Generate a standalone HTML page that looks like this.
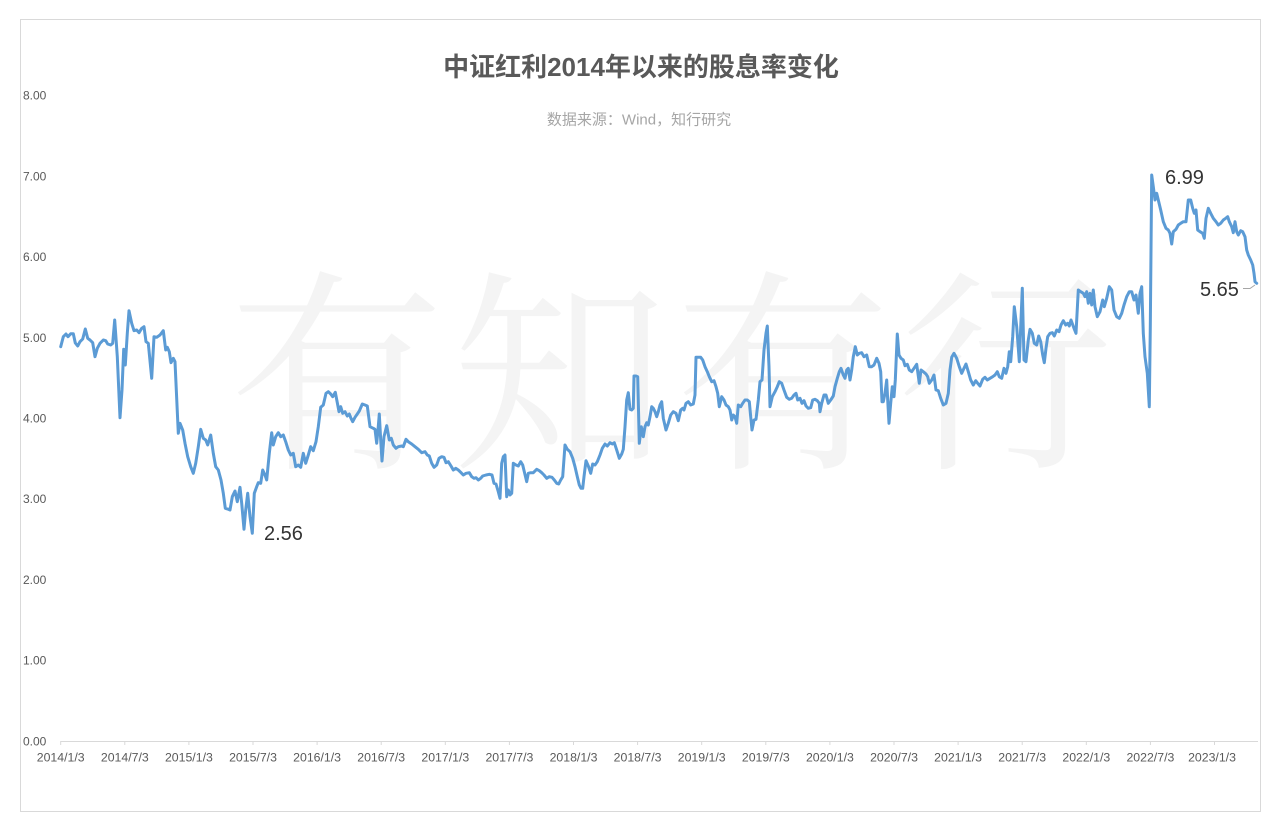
<!DOCTYPE html>
<html>
<head>
<meta charset="utf-8">
<style>
html,body{margin:0;padding:0;background:#fff;}
svg{display:block;}
</style>
</head>
<body>
<svg width="1280" height="831" viewBox="0 0 1280 831" xmlns="http://www.w3.org/2000/svg">
<rect x="0" y="0" width="1280" height="831" fill="#ffffff"/>
<rect x="20.5" y="19.5" width="1240" height="792" fill="#ffffff" stroke="#d9d9d9" stroke-width="1"/>

<!-- watermark -->
<text x="229" y="452" font-family="'Noto Serif CJK SC','Noto Sans CJK SC',serif" font-size="215" letter-spacing="8" fill="#f4f4f4">有知有行</text>

<!-- title -->
<text x="641" y="76" text-anchor="middle" font-family="'Liberation Sans','Noto Sans CJK SC',sans-serif" font-size="26" font-weight="bold" fill="#595959">中证红利2014年以来的股息率变化</text>
<text x="639" y="124.5" text-anchor="middle" font-family="'Liberation Sans','Noto Sans CJK SC',sans-serif" font-size="15" fill="#a6a6a6">数据来源：Wind，知行研究</text>

<!-- y labels -->
<g font-family="'Liberation Sans',sans-serif" font-size="12" fill="#595959">
<text x="23" y="99.7">8.00</text>
<text x="23" y="180.4">7.00</text>
<text x="23" y="261.1">6.00</text>
<text x="23" y="341.8">5.00</text>
<text x="23" y="422.5">4.00</text>
<text x="23" y="503.2">3.00</text>
<text x="23" y="583.9">2.00</text>
<text x="23" y="664.6">1.00</text>
<text x="23" y="745.3">0.00</text>
</g>

<!-- x axis -->
<line x1="60.5" y1="741.5" x2="1258" y2="741.5" stroke="#d9d9d9" stroke-width="1"/>
<g stroke="#d9d9d9" stroke-width="1">
<line x1="60.7" y1="741" x2="60.7" y2="745"/>
<line x1="124.8" y1="741" x2="124.8" y2="745"/>
<line x1="188.9" y1="741" x2="188.9" y2="745"/>
<line x1="253" y1="741" x2="253" y2="745"/>
<line x1="317.1" y1="741" x2="317.1" y2="745"/>
<line x1="381.2" y1="741" x2="381.2" y2="745"/>
<line x1="445.3" y1="741" x2="445.3" y2="745"/>
<line x1="509.4" y1="741" x2="509.4" y2="745"/>
<line x1="573.5" y1="741" x2="573.5" y2="745"/>
<line x1="637.6" y1="741" x2="637.6" y2="745"/>
<line x1="701.7" y1="741" x2="701.7" y2="745"/>
<line x1="765.8" y1="741" x2="765.8" y2="745"/>
<line x1="829.9" y1="741" x2="829.9" y2="745"/>
<line x1="894" y1="741" x2="894" y2="745"/>
<line x1="958.1" y1="741" x2="958.1" y2="745"/>
<line x1="1022.2" y1="741" x2="1022.2" y2="745"/>
<line x1="1086.3" y1="741" x2="1086.3" y2="745"/>
<line x1="1150.4" y1="741" x2="1150.4" y2="745"/>
<line x1="1214.5" y1="741" x2="1214.5" y2="745"/>
</g>
<g font-family="'Liberation Sans',sans-serif" font-size="12.3" fill="#595959" text-anchor="middle">
<text x="60.7" y="761.5">2014/1/3</text>
<text x="124.8" y="761.5">2014/7/3</text>
<text x="188.9" y="761.5">2015/1/3</text>
<text x="253" y="761.5">2015/7/3</text>
<text x="317.1" y="761.5">2016/1/3</text>
<text x="381.2" y="761.5">2016/7/3</text>
<text x="445.3" y="761.5">2017/1/3</text>
<text x="509.4" y="761.5">2017/7/3</text>
<text x="573.5" y="761.5">2018/1/3</text>
<text x="637.6" y="761.5">2018/7/3</text>
<text x="701.7" y="761.5">2019/1/3</text>
<text x="765.8" y="761.5">2019/7/3</text>
<text x="829.9" y="761.5">2020/1/3</text>
<text x="894" y="761.5">2020/7/3</text>
<text x="958.1" y="761.5">2021/1/3</text>
<text x="1022.2" y="761.5">2021/7/3</text>
<text x="1086.3" y="761.5">2022/1/3</text>
<text x="1150.4" y="761.5">2022/7/3</text>
<text x="1212" y="761.5">2023/1/3</text>
</g>

<!-- series -->
<polyline fill="none" stroke="#5b9bd5" stroke-width="3" stroke-linejoin="round" stroke-linecap="round" points="
60.7,346.7 63.3,336.7 66,334 68,336.7 70.7,333.7 73.3,333.7 75.3,343 77.7,346 80,341.7 82.7,339 85.3,329 87.7,338.3 90,340 92.7,342.7 95,356.7 97.3,348.3 100,343.3 103.3,340 105.7,340.7 107.7,344 110.7,345 112.7,343.3 114.7,320 117.3,356.7 120,417.7 122,390 123.7,349.3 125.3,365 127.3,333.3 129,310.7 131.7,323.3 134,330.7 136.7,330 139,332.7 141.7,328.3 144,326.7 146,341.7 148.3,343.3 151.7,378.3 154,336.7 156.7,337.3 160,335 163.3,330.7 165.7,350 167.3,347.3 169.3,351.7 171,362.7 173.3,358.3 175,361.7 178.3,433.3 180,423.3 182.7,430 185,443.3 187.7,456.7 190.7,466.7 193.3,473.3 195.7,463.3 198.3,446.7 200.7,429.3 203.3,438.3 205.7,440 207.7,445 210.7,435 213.3,453.3 215.7,466.7 218.3,470 221,480 223.3,493.3 225.3,508.3 227.7,509 230,510 232.3,496.7 235,491 237.3,501.7 240,487.3 241.7,503.3 244,529.3 245.7,510 247.7,493.3 250,516.7 252.3,533.3 254.3,493.3 256.7,486.7 258.3,482.7 260.7,483.3 262.7,470 265,475 266.7,480 269.3,453.3 271.7,432.7 273.3,445 275.7,436.7 278.3,432.7 280.7,436.7 283.3,435 285.7,441.7 288.3,450 290.7,455 293.3,453.3 295.7,466.7
298.3,465 300.7,467.3 303.3,453.3 305.7,463.3 308.3,455 310.7,446.7 313.3,450.7 316,441.7 318.3,426.7 320.7,407.3 323.3,405 326,393.3 328.3,391.7 330.7,394 332.7,396.7 335.3,392.3 337.3,402.7 339,411.7 340.7,406.7 342.7,413.3 345,411.7 347.3,416 349.3,414 351,418.3 352.7,421.7 355,417.3 357.3,414 359.3,411 362.3,404 365,405 367.3,406 370,426.7 373.3,428.3 375,429.3 376.7,443.3 378,430 379.3,414 380.7,440 382,461 384,436.7 386.7,425.7 389.3,440 391.3,438.3 393.3,445 396,448.3 398.3,446.7 401.7,446 403.3,446.7 406,439.3 408.3,441.7 411.7,444 415,446.7 418.3,449.3 421.7,452.7 425,451.7 427.3,455 429.3,456 431.7,463.3 434,467.3 436.7,465 439,458.3 441.7,456.7 444,457.3 446,462.7 448.3,461.7 451,466 453.3,470 455.7,468.3 458.3,470 460.7,472.3 463.3,475 466,473.3 469.3,472.7 471.7,476.7 474,478.3 476,477.7 478.3,480 480.7,478.3 482.7,476 486,475 489.3,474.3 492,475 494,483.3 496,484 498.3,491.7 500,498.3 501.7,463.3 503.3,456.7 505,455 506.7,496.7 508.3,490 510,495 511.7,493.3 513.3,463.3 516,465 518.3,466 520.7,461.7 522.7,465 524.3,471.7 526.7,481.7 528.3,473.3 530.7,472.7 533.3,472.7 536.7,469.3 539.3,470.7 541.7,472.7 544,475 546.7,478.3 549.3,476.7 552,477.3 554.3,480 556.7,483.3 558.7,484 560.7,480 562.7,476.7
565,445 567.3,449.3 570,451.7 572.7,458.3 575,466.7 577.3,476.7 579.3,485 581,488.3 582.7,488.3 584,476.7 586,460.7 588.3,466 590.7,473.3 592.7,464 595,465 597.3,461.7 600,455 602.3,448.3 605,444 607.3,446 610,442.7 612.3,444 614.3,442.7 616.7,450 619.3,458.3 621.7,454 623.3,449.3 625,426.7 626.7,400 628.3,392.7 630,409.3 631.7,410 633.3,408.3 634,376 636,376 637.7,376.7 639.3,443.3 641.3,426.7 643.3,436.7 645,426.7 646.7,422.7 648.3,425 650,416.7 651.7,406.7 653.3,408.3 655,411.7 656.7,416.7 658.3,411.7 660,405 661.7,401.7 663.3,418.3 666,430 668.3,423.3 670.7,415 673.3,411.7 676,413.3 678.3,420.7 680.7,410 682.7,408.3 684,410 686,403.3 688.3,401.7 690.7,405 693.3,404 695,395 696,357.3 698.3,357.3 700.7,357.3 702.7,360 705,366.7 707.3,371.7 709.3,376.7 711.7,381.7 714,380.7 716,386.7 717.7,393.3 719.3,406.7 721.7,396.7 724,400 726,405 728.3,406.7 730,410 731.7,420 733.3,415 735,416.7 736.7,423.3 738.3,405 740.7,406.7 742.7,403.3 745,400 747.3,400 749.3,401.7 750.7,416.7 752,430 754,420 756,419.3 758.3,400 760,381.7 762,380 764,350 766,333.3 767.3,326 769,366.7 770,406.7 772.3,396.7 775,391.7 777.3,386.7 779.3,381.7 781.7,383.3 784,390 786.7,397.3 789.3,399.3 791.7,398.3 794,395 796,393.3 797.7,400 800,398.3 802,403.3 804,400.7 806,406 808.3,408.3 810.7,407.7 812.7,400 815,399.3 817.3,400.7 819.3,403.3
820,411.7 821.7,403.3 824,395 826,395 828.3,403.3 830.7,400 833.3,396 835,386.7 837.3,378.3 839.3,371.7 841,368.3 843.3,375 845,378.3 846.7,370 848.3,368.3 850,380 851.7,370 853.3,356.7 855.3,346.7 857.3,355 859.3,353.3 861.7,352.7 864,356.7 866.7,355 869.3,366.7 871.7,366.7 874,365 876.7,358.3 879,363.3 880.7,371.7 882,401.7 883.3,401.7 885,393.3 886.7,380 887.7,400 889,423.3 890.7,403.3 892.3,386.7 894,396.7 895.3,380 897.3,334 899,355 901,358.3 903.3,360 905,365.7 907.3,364.3 909.3,370 911.7,371.7 914,368.3 916.7,364.3 919.3,383.3 921,370 923.3,371.7 926,374 927.7,376.7 929.3,383.3 931.7,380 934,375 936,390 938.3,390.7 940.7,398.3 943.3,405 946,403.3 948.3,393.3 950,370 951.7,357.3 954,353.3 956.7,358.3 959.3,366.7 961.7,373.3 964,368.3 966,364 968.3,371.7 970.7,380 973.3,385 975.7,380.7 977.7,383.3 980,386 982.7,379.3 985,377.3 987.3,380 990,378.3 992.7,376.7 995,375 997.3,371.7 999.3,376.7 1001.7,378.3 1004,368.3 1006,373.3 1007.7,366.7 1009.3,351.7 1010.7,361.7 1012.7,336.7 1014.3,306.7 1016.7,326.7 1019.3,361.7 1021,320 1022.3,288.3 1024,360 1026,361.7 1028.3,340 1030,329.3 1032.3,333.3 1034.3,343.3 1036.7,345 1038.7,336 1040.7,341.7 1042.7,355 1044.3,362.7 1046,348.3 1047.7,336.7 1050,333.3 1052.3,332.7 1054.3,336 1056.7,330 1059,331.7 1061,325 1063.3,320.7 1065.7,325 1067.7,323.3 1069.3,326
1071,320 1074,328.3 1076,333.3 1078.3,290 1080.7,291.7 1083.3,293.3 1085,296.7 1086.7,291.7 1088.3,303.3 1090,293.3 1091.7,305 1093.3,290 1095,306.7 1097.3,316.7 1100,311.7 1102.7,300 1104.3,306.7 1106.7,298.3 1109.3,286.7 1111.7,290 1114,310 1116.7,316.7 1119.3,318.3 1121.7,313.3 1124,305 1126.7,296.7 1129.3,291.7 1131.7,291.7 1134,300 1136,295 1138.3,313.3 1140,293.3 1141.7,286.7 1143.3,333.3 1145,356.7 1147.3,373.3 1149.3,406.7 1150.3,326.7 1151.7,175 1153.3,186.7 1155,200 1156.7,193.3 1158.3,200 1160.7,210 1163.3,221.7 1166,228.3 1168.3,230 1170,233.3 1171.7,244 1173.3,231.7 1176,229.3 1178.3,225 1180.7,223.3 1183.3,221.7 1186,221.7 1188.3,200 1190.7,200 1192.7,208.3 1194.3,213.3 1196,210 1197.7,230 1200,231.7 1202.7,233.3 1204.3,238.3 1206,218.3 1208.3,208.3 1210.7,213.3 1213.3,218.3 1216,221.7 1218.3,225 1220.7,223.3 1223.3,220 1225.7,218.3 1227.7,216.7 1229.3,221.7 1231.7,226.7 1233.3,232.7 1235,221.7 1236.7,231.7 1238.3,235 1240.7,230.7 1242.7,231.7 1245,236.7 1246.7,250 1248.3,255 1250.7,260 1252.7,265 1254,273.3 1255,281.7 1256.7,283.3"/>

<!-- annotations -->
<g font-family="'Liberation Sans',sans-serif" font-size="20" fill="#333333">
<text x="264" y="540">2.56</text>
<text x="1165" y="184">6.99</text>
<text x="1200" y="296">5.65</text>
</g>
<polyline points="1243,288.5 1250,288.5 1255,285" fill="none" stroke="#a6a6a6" stroke-width="1"/>
</svg>
</body>
</html>
